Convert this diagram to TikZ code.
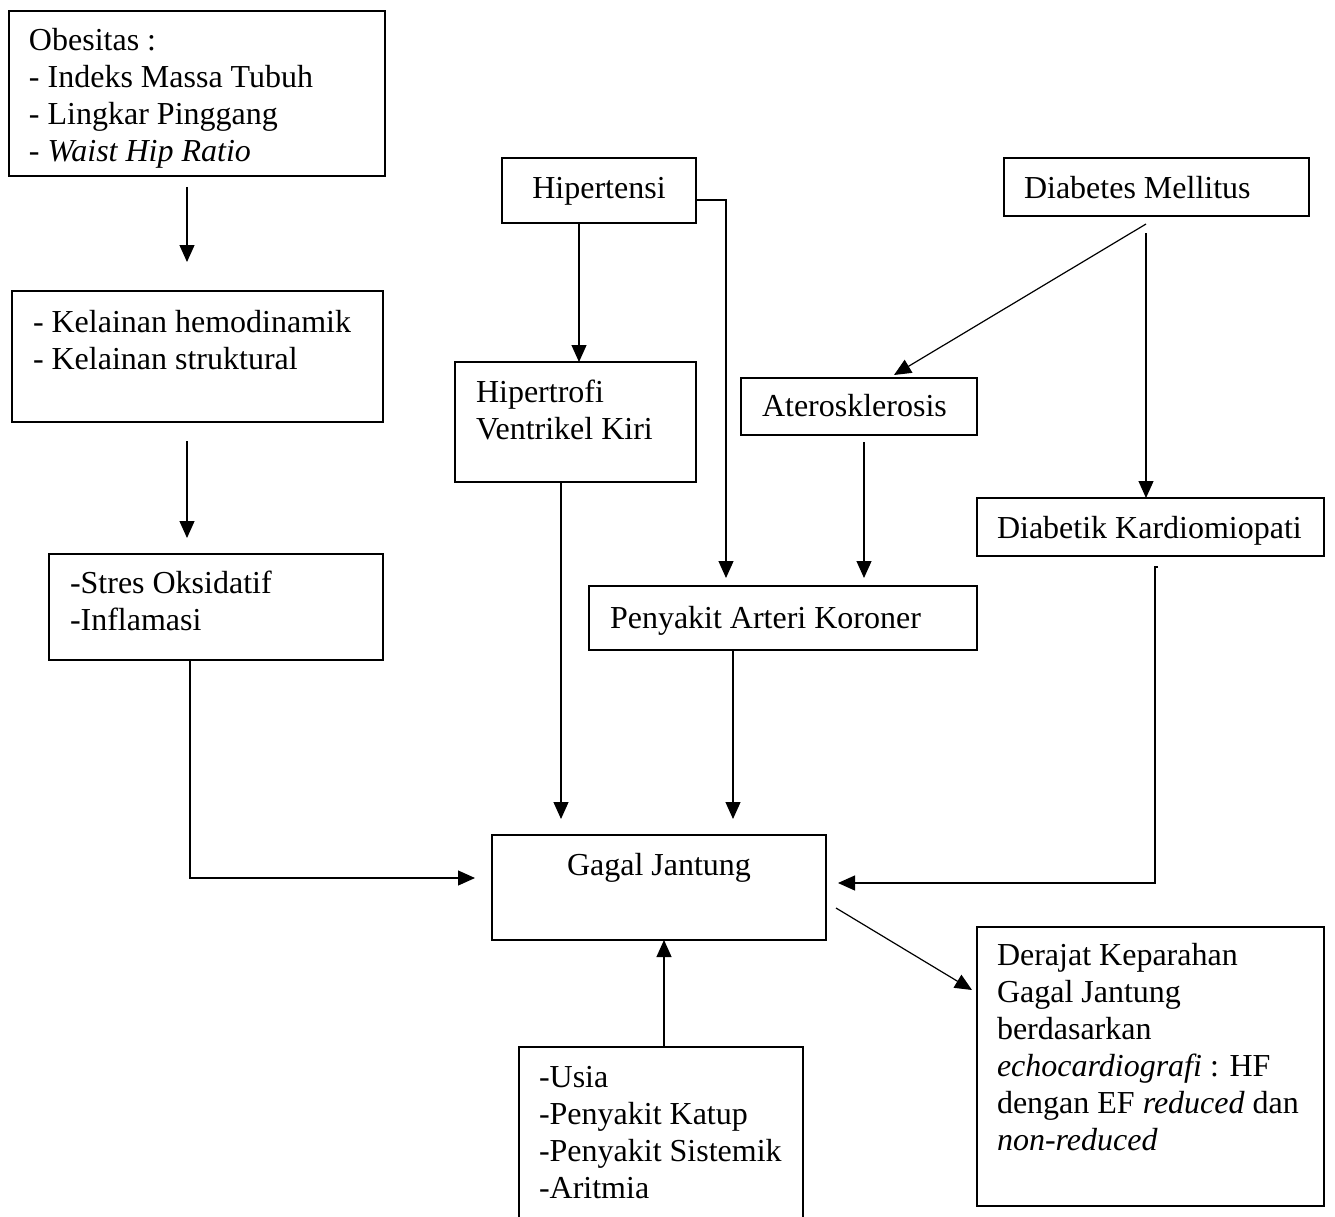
\documentclass[tikz,border=0pt]{standalone}
\usepackage{fontspec}
\setmainfont{Liberation Serif}
\usetikzlibrary{arrows.meta}
\newcommand\lbox[5]{\parbox[t][#2pt][t]{#1pt}{\raggedright\leftskip=#3pt\relax\rule{0pt}{#4pt}#5}}
\newcommand\cbox[4]{\parbox[t][#2pt][t]{#1pt}{\centering\rule{0pt}{#3pt}#4}}
\tikzset{
  box/.style={draw, line width=1.2pt, inner sep=0pt, outer sep=0pt, anchor=north west},
  arr/.style={-{Triangle[length=17pt,width=15pt]}, line width=1.2pt},
  conn/.style={line width=1.2pt}
}
\begin{document}
\begin{tikzpicture}[x=1pt,y=-1pt]
\useasboundingbox (0,0) rectangle (1335,1217);
\clip (0,0) rectangle (1335,1217);
\fontsize{32}{37}\selectfont
% boxes
\node[box] (obes) at (9,11) {\lbox{376}{165}{20}{40}{Obesitas :\\- Indeks Massa Tubuh\\- Lingkar Pinggang\\- \textit{Waist Hip Ratio}}};
\node[box] (kel) at (12,291) {\lbox{371}{131}{21}{41}{- Kelainan hemodinamik\\- Kelainan struktural}};
\node[box] (stres) at (49,554) {\lbox{334}{106}{21}{39}{-Stres Oksidatif\\-Inflamasi}};
\node[box] (hten) at (502,158) {\cbox{194}{65}{40}{Hipertensi}};
\node[box] (htro) at (455,362) {\lbox{241}{120}{21}{40}{Hipertrofi\\Ventrikel Kiri}};
\node[box] (ater) at (741,378) {\lbox{236}{57}{21}{38}{Aterosklerosis}};
\node[box] (dm) at (1004,158) {\lbox{305}{58}{20}{40}{Diabetes Mellitus}};
\node[box] (dk) at (977,498) {\lbox{347}{58}{20}{40}{Diabetik Kardiomiopati}};
\node[box] (pak) at (589,586) {\lbox{388}{64}{21}{42}{Penyakit Arteri Koroner}};
\node[box] (gj) at (492,835) {\cbox{334}{105}{40}{Gagal Jantung}};
\node[box] (der) at (977,927) {\lbox{347}{279}{20}{38}{Derajat Keparahan\\Gagal Jantung\\berdasarkan\\\textit{echocardiografi} : HF\\dengan EF \textit{reduced} dan\\\textit{non-reduced}}};
\node[box] (lain) at (519,1047) {\lbox{284}{200}{20}{40}{-Usia\\-Penyakit Katup\\-Penyakit Sistemik\\-Aritmia}};
% connectors
\draw[arr] ([shift={(178,11)}]obes.south west) -- ([shift={(175,-29)}]kel.north west);
\draw[arr] ([shift={(175,19)}]kel.south west) -- ([shift={(138,-16)}]stres.north west);
\draw[arr] ([shift={(141,0)}]stres.south west) |- ([shift={(-17,43)}]gj.north west);
\draw[arr] ([xshift=-20]hten.south) -- ([xshift=-20]hten.south |- htro.north);
\draw[arr] ([shift={(0,42)}]hten.north east) -| ([shift={(137,-8)}]pak.north west);
\draw[arr] ([shift={(106,0)}]htro.south west) -- ([shift={(69,-16)}]gj.north west);
\draw[arr] ([shift={(142,8)}]dm.south west) -- ([shift={(153,-3)}]ater.north west);
\draw[arr] ([shift={(142,17)}]dm.south west) -- ([shift={(169,0)}]dk.north west);
\draw[arr] ([shift={(123,7)}]ater.south west) -- ([shift={(275,-8)}]pak.north west);
\draw[arr] ([shift={(144,0)}]pak.south west) -- ([shift={(241,-16)}]gj.north west);
\draw[arr] ([shift={(181,11)}]dk.south west) -- ++(-3,0) |- ([shift={(12,48)}]gj.north east);
\draw[arr] ([shift={(10,73)}]gj.north east) -- ([shift={(-5,63)}]der.north west);
\draw[arr] ([shift={(145,0)}]lain.north west) -- ([shift={(172,0)}]gj.south west);
\end{tikzpicture}
\end{document}
